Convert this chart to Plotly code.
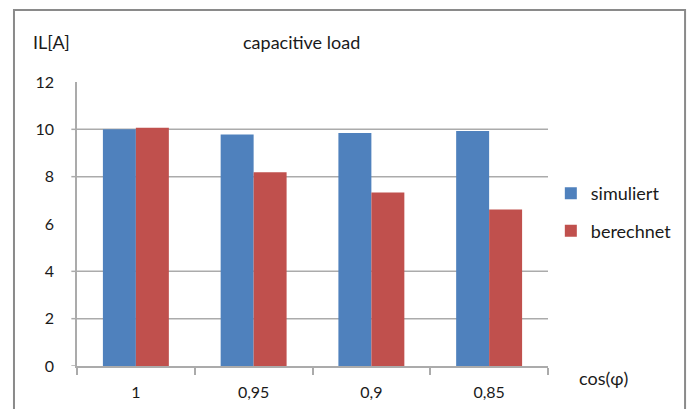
import plotly.graph_objects as go

categories = ["1", "0,95", "0,9", "0,85"]
simuliert = [10.0, 9.78, 9.84, 9.93]
berechnet = [10.07, 8.19, 7.33, 6.61]
y_ticks = [0, 2, 4, 6, 8, 10, 12]
grid_values = [2, 4, 8, 10]
tick_mark_values = [0, 2, 4, 8, 10]

FONT = "Lato, Open Sans, sans-serif"
GRID = "#ababab"

fig = go.Figure()
fig.add_trace(go.Bar(x=categories, y=simuliert, name="simuliert",
                     marker=dict(color="#4F81BD", line=dict(width=0)),
                     legendgroup="a"))
fig.add_trace(go.Bar(x=categories, y=berechnet, name="berechnet",
                     marker=dict(color="#C0504D", line=dict(width=0)),
                     legendgroup="b"))

shapes = []
for v in grid_values:
    shapes.append(dict(type="line", xref="paper", yref="y", x0=0, x1=1, y0=v, y1=v,
                       line=dict(color=GRID, width=1.5), layer="below"))
for v in tick_mark_values:
    shapes.append(dict(type="line", xref="paper", yref="y", x0=-0.012, x1=0, y0=v, y1=v,
                       line=dict(color=GRID, width=1.5), layer="below"))
# outer chart border
shapes.append(dict(type="rect", xref="paper", yref="paper",
                   x0=-0.1338, x1=1.291, y0=-0.3, y1=1.2535,
                   line=dict(color="#8a8a8a", width=2), fillcolor="rgba(0,0,0,0)"))

fig.update_layout(
    width=691, height=409,
    margin=dict(l=77, r=143, t=82, b=43, autoexpand=False),
    paper_bgcolor="white", plot_bgcolor="white",
    barmode="group", bargap=0.44, bargroupgap=0,
    font=dict(family=FONT, size=16, color="#1a1a1a"),
    showlegend=True,
    legend=dict(x=1.006, y=0.542, xanchor="left", yanchor="middle",
                font=dict(size=18, color="#1a1a1a"), tracegroupgap=11,
                bgcolor="rgba(0,0,0,0)"),
    xaxis=dict(type="category", showgrid=False, showline=True, linecolor=GRID, linewidth=1.5,
               ticks="outside", tickson="boundaries", ticklen=7, tickcolor=GRID, tickwidth=1.5,
               ticklabelstandoff=11, tickfont=dict(size=16), fixedrange=True, automargin=False),
    yaxis=dict(range=[0, 12], tickvals=y_ticks, showgrid=False, zeroline=False,
               showline=True, linecolor=GRID, linewidth=1.5, ticks="", ticklabelstandoff=18,
               tickfont=dict(size=16), automargin=False),
    shapes=shapes,
    annotations=[
        dict(text="capacitive load", xref="paper", yref="paper", x=(301 - 77) / 471, y=(366 - 42) / 284,
             showarrow=False, font=dict(size=18), xanchor="center", yanchor="middle"),
        dict(text="IL[A]", xref="paper", yref="paper", x=(51 - 77) / 471, y=(366 - 42) / 284,
             showarrow=False, font=dict(size=18), xanchor="center", yanchor="middle"),
        dict(text="cos(φ)", xref="paper", yref="paper", x=(603 - 77) / 471, y=(366 - 378) / 284,
             showarrow=False, font=dict(size=18), xanchor="center", yanchor="middle"),
    ],
)

fig.write_html("out.html")
